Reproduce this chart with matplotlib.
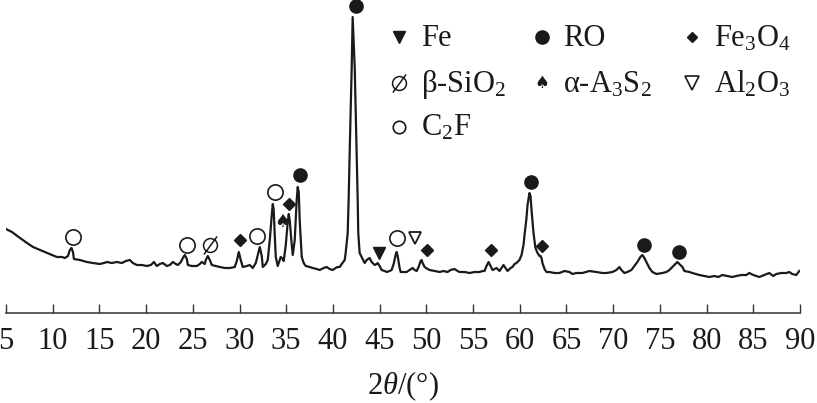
import matplotlib
matplotlib.use("Agg")
import matplotlib.pyplot as plt
from matplotlib.path import Path

plt.rcParams['font.family'] = ['Liberation Serif', 'DejaVu Sans']
plt.rcParams['mathtext.fontset'] = 'custom'
plt.rcParams['mathtext.rm'] = 'Liberation Serif'
plt.rcParams['mathtext.it'] = 'Liberation Serif:italic'

# XRD pattern (2theta in degrees, intensity in a.u.)
two_theta = [5.00, 5.64, 6.50, 7.25, 7.89, 8.64, 9.39, 9.92, 10.45, 10.99,
             11.31, 11.63, 11.84, 12.01, 12.17, 12.27, 12.91, 13.66, 14.30, 15.05,
             15.48, 15.80, 16.34, 16.87, 17.41, 17.83, 18.26, 18.58, 19.01, 19.55,
             20.08, 20.51, 20.83, 21.15, 21.47, 21.79, 22.22, 22.54, 22.86, 23.18,
             23.40, 23.72, 23.93, 24.14, 24.36, 24.47, 24.89, 25.43, 25.75, 25.96,
             26.28, 26.39, 26.60, 26.82, 27.03, 27.46, 27.89, 28.42, 28.96, 29.49,
             29.71, 29.92, 30.13, 30.35, 30.78, 31.10, 31.42, 31.74, 31.95, 32.17,
             32.38, 32.49, 32.81, 33.02, 33.24, 33.45, 33.56, 33.66, 33.77, 33.88,
             34.09, 34.30, 34.41, 34.63, 34.73, 34.95, 35.16, 35.27, 35.37, 35.59,
             35.70, 35.91, 36.12, 36.23, 36.34, 36.44, 36.66, 36.87, 37.09, 37.51,
             37.83, 38.26, 38.58, 39.01, 39.33, 39.65, 39.97, 40.29, 40.51, 40.72,
             40.94, 41.26, 41.36, 41.58, 41.68, 41.84, 42.01, 42.11, 42.33, 42.49,
             42.65, 42.71, 42.86, 43.07, 43.40, 43.61, 43.93, 44.14, 44.47, 44.68,
             44.79, 45.00, 45.21, 45.53, 45.75, 46.07, 46.28, 46.50, 46.71, 46.82,
             46.93, 47.14, 47.25, 47.57, 47.89, 48.21, 48.53, 48.74, 48.96, 49.17,
             49.39, 49.49, 49.60, 49.81, 50.13, 50.35, 50.88, 51.42, 51.84, 52.27,
             52.59, 53.02, 53.34, 53.56, 54.09, 54.63, 55.16, 55.70, 56.02, 56.23,
             56.44, 56.66, 56.87, 57.09, 57.30, 57.51, 57.83, 58.05, 58.26, 58.48,
             58.69, 59.01, 59.22, 59.44, 59.65, 59.97, 60.19, 60.40, 60.51, 60.72,
             60.83, 61.04, 61.15, 61.26, 61.47, 61.68, 61.90, 62.11, 62.22, 62.33,
             62.43, 62.65, 62.86, 63.18, 63.72, 64.25, 64.79, 65.32, 65.64, 66.07,
             66.71, 67.46, 68.21, 68.85, 69.28, 69.92, 70.35, 70.67, 70.88, 71.20,
             71.52, 71.95, 72.27, 72.59, 72.91, 73.13, 73.34, 73.66, 73.88, 74.20,
             74.63, 75.27, 75.70, 76.02, 76.34, 76.66, 76.87, 77.09, 77.41, 77.62,
             78.16, 78.48, 79.22, 79.76, 80.29, 80.83, 81.26, 81.68, 82.22, 82.75,
             83.18, 83.72, 84.25, 84.57, 85.00, 85.64, 86.18, 86.71, 87.14, 87.46,
             88.00, 88.53, 88.85, 89.17, 89.60, 89.92]
intensity = [84, 81, 75, 70, 66, 63, 60, 58, 56, 56,
             55, 57, 63, 65, 61, 54, 53, 51, 50, 49,
             50, 51, 50, 51, 50, 52, 53, 50, 48, 48,
             47, 48, 51, 47, 49, 50, 47, 48, 51, 49,
             48, 51, 55, 58, 54, 48, 47, 47, 49, 51,
             49, 53, 57, 53, 48, 47, 46, 45, 45, 46,
             52, 61, 53, 46, 47, 48, 45, 50, 58, 66,
             57, 46, 49, 53, 73, 98, 109, 103, 78, 56,
             47, 53, 56, 54, 52, 68, 91, 99, 93, 68,
             58, 73, 113, 126, 121, 93, 56, 50, 47, 46,
             45, 44, 43, 45, 46, 44, 43, 45, 46, 46,
             49, 53, 60, 80, 113, 180, 246, 296, 246, 180,
             113, 80, 60, 56, 50, 53, 55, 51, 48, 49,
             50, 47, 43, 42, 41, 42, 43, 49, 58, 61,
             57, 45, 41, 41, 41, 43, 45, 43, 42, 46,
             52, 53, 50, 46, 44, 43, 42, 41, 42, 41,
             43, 44, 42, 41, 41, 40, 41, 41, 42, 42,
             47, 51, 47, 43, 44, 45, 42, 45, 48, 45,
             42, 45, 46, 49, 50, 53, 58, 68, 78, 95,
             108, 120, 117, 103, 80, 65, 60, 57, 57, 55,
             50, 44, 41, 41, 40, 40, 42, 41, 39, 40,
             40, 42, 41, 40, 40, 41, 43, 46, 43, 40,
             41, 43, 47, 51, 56, 58, 55, 49, 45, 41,
             39, 40, 41, 43, 46, 49, 51, 49, 46, 42,
             41, 40, 38, 37, 36, 37, 36, 38, 37, 36,
             37, 38, 38, 40, 38, 36, 38, 40, 37, 39,
             40, 40, 41, 39, 38, 42]

# phase labels above the peaks
fe_x, fe_y = [44.89], [60]
ro_x, ro_y = [36.44, 42.43, 61.15, 73.34, 77.09], [138, 307, 131, 68, 61]
fe3o4_x, fe3o4_y = [30.03, 35.27, 50.03, 56.87, 62.43], [73, 109, 63, 63, 67]
sio2_x, sio2_y = [26.82], [68]
a3s2_x, a3s2_y = [34.52], [91]
al2o3_x, al2o3_y = [48.74], [75]
c2f_x, c2f_y = [12.17, 24.36, 31.85, 33.77, 46.82], [76, 68, 77, 121, 75]

ticks = list(range(5, 95, 5))

ink = '#1a1a1a'

# circle with a slash for beta-SiO2
empty_set = Path.make_compound_path(
    Path.unit_circle(),
    Path([(-0.95, -1.3), (0.95, 1.3)], [Path.MOVETO, Path.LINETO]))

fig = plt.figure(figsize=(8.17, 4.03), dpi=100)
ax = fig.add_axes([6 / 817, 90 / 403, 794 / 817, 313 / 403])

ax.plot(two_theta, intensity, color=ink, lw=1.6, solid_joinstyle='round')

ax.plot(fe_x, fe_y, 'v', color=ink, ms=8.5, ls='none')
ax.plot(ro_x, ro_y, 'o', color=ink, ms=9.5, ls='none', clip_on=False)
ax.plot(fe3o4_x, fe3o4_y, 'D', color=ink, ms=6.2, ls='none')
ax.plot(sio2_x, sio2_y, marker=empty_set, color=ink, mfc='none', mew=1.1, ms=13, ls='none')
ax.plot(al2o3_x, al2o3_y, 'v', mec=ink, mfc='white', mew=1.3, ms=9, ls='none')
ax.plot(c2f_x, c2f_y, 'o', mec=ink, mfc='white', mew=1.2, ms=11, ls='none')
for x, y in zip(a3s2_x, a3s2_y):
    ax.text(x, y, '\u2660', ha='center', va='center', fontsize=13,
            family='DejaVu Sans', color=ink)

ax.set_xlim(5, 90)
ax.set_ylim(0, 313)
ax.set_xticks(ticks)
ax.set_yticks([])
for s in ['left', 'right', 'top']:
    ax.spines[s].set_visible(False)
ax.spines['bottom'].set_color('#333333')
ax.spines['bottom'].set_linewidth(1.1)
ax.tick_params(axis='x', direction='in', length=6.5, width=1, color='#333333',
               pad=10, labelsize=22, labelcolor=ink)
ax.set_xlabel(r'2$\theta$/(°)', fontsize=22, color=ink)
ax.xaxis.set_label_coords(0.5, -0.235)
ax.xaxis.label.set_verticalalignment('center')

# legend, three columns
legend = [
    ('Fe', 'v', 0, 0),
    ('RO', 'o', 1, 0),
    ('Fe$_3$O$_4$', 'D', 2, 0),
    ('\u03b2-SiO$_2$', 'empty', 0, 1),
    ('\u03b1-A$_3$S$_2$', 'spade', 1, 1),
    ('Al$_2$O$_3$', 'vo', 2, 1),
    ('C$_2$F', 'oo', 0, 2),
]
col_mark = [0.495, 0.675, 0.864]
col_text = [0.523, 0.701, 0.892]
row_mark = [0.882, 0.735, 0.594]
row_base = [0.853, 0.706, 0.566]
for name, kind, c, r in legend:
    mx, my = col_mark[c], row_mark[r]
    if kind == 'v':
        ax.plot([mx], [my], 'v', color=ink, ms=8, transform=ax.transAxes, clip_on=False)
    elif kind == 'o':
        ax.plot([mx], [my], 'o', color=ink, ms=9.5, transform=ax.transAxes, clip_on=False)
    elif kind == 'D':
        ax.plot([mx], [my], 'D', color=ink, ms=5.5, transform=ax.transAxes, clip_on=False)
    elif kind == 'empty':
        ax.plot([mx], [my], marker=empty_set, color=ink, mfc='none', mew=1.1, ms=13,
                transform=ax.transAxes, clip_on=False)
    elif kind == 'spade':
        ax.text(mx, my, '\u2660', ha='center', va='center', fontsize=12,
                family='DejaVu Sans', color=ink, transform=ax.transAxes)
    elif kind == 'vo':
        ax.plot([mx], [my], 'v', mec=ink, mfc='white', mew=1.2, ms=9.5,
                transform=ax.transAxes, clip_on=False)
    elif kind == 'oo':
        ax.plot([mx], [my], 'o', mec=ink, mfc='white', mew=1.2, ms=9,
                transform=ax.transAxes, clip_on=False)
    ax.text(col_text[c], row_base[r], name, ha='left', va='baseline', fontsize=22,
            color=ink, transform=ax.transAxes)

fig.savefig('out.png', dpi=100)
